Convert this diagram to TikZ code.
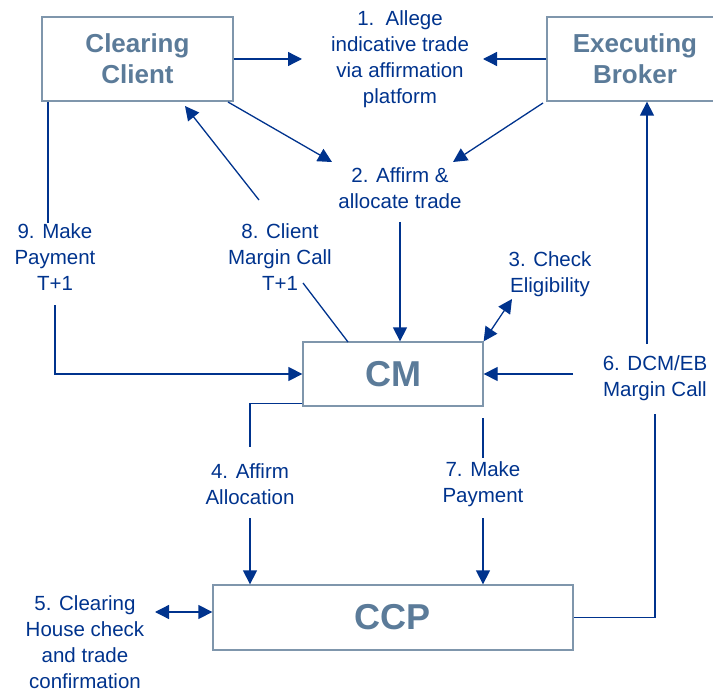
\documentclass[tikz,border=0pt]{standalone}
\usepackage{fontspec}
\setmainfont{Liberation Sans}
\usetikzlibrary{arrows.meta}
\definecolor{navyx}{HTML}{00338D}
\definecolor{slatex}{HTML}{5B7B99}
\definecolor{framex}{HTML}{7F96AC}
\tikzset{
  ar/.style={-{Triangle[length=14pt,width=14pt]},line width=1.3pt,navyx},
  dar/.style={{Triangle[length=14pt,width=14pt]}-{Triangle[length=14pt,width=14pt]},line width=1.3pt,navyx},
  ln/.style={line width=1.3pt,navyx},
  party/.style={draw=framex,line width=1.3pt,align=center,text=slatex,inner sep=0pt,font=\fontsize{26}{31}\selectfont\bfseries},
  hub/.style={party,font=\fontsize{36}{40}\selectfont\bfseries},
  lbl/.style={align=center,text=navyx,inner sep=0pt,font=\fontsize{20.5}{26}\selectfont}
}

\begin{document}
\begin{tikzpicture}[x=1pt,y=-1pt]
\useasboundingbox (0,0) rectangle (713,690);
% parties
\node[party,minimum width=191,minimum height=84] (cc) at (137.5,59) {Clearing\\Client};
\node[party,minimum width=176,minimum height=84] (eb) at (635,59) {Executing\\Broker};
\node[hub,minimum width=180,minimum height=64] (cm) at (393,374) {CM};
\node[hub,minimum width=360,minimum height=65] (ccp) at (393,617.5) {CCP};
% step labels
\node[lbl] (l1) at (400,59) {1.\ \ Allege\\indicative trade\\via affirmation\\platform};
\node[lbl] (l2) at (400,188) {2. Affirm \&\\allocate trade};
\node[lbl] (l3) at (550,274) {3. Check\\Eligibility};
\node[lbl] (l4) at (250,484) {4. Affirm\\Allocation};
\node[lbl] (l5) at (85,642) {5. Clearing\\House check\\and trade\\confirmation};
\node[lbl] (l6) at (655,378) {6. DCM/EB\\Margin Call};
\node[lbl] (l7) at (483,484) {7. Make\\Payment};
\node[lbl] (l8) at (280,257) {8. Client\\Margin Call\\T+1};
\node[lbl] (l9) at (55,257) {9. Make\\Payment\\T+1};
% free ends
\coordinate (a1l) at (302,59);
\coordinate (a1r) at (483,59);
\coordinate (a2s) at (228,102);
\coordinate (a2l) at (332,162);
\coordinate (a2e) at (543,103);
\coordinate (a2r) at (453,162);
\coordinate (a2d) at (400,222);
\coordinate (a3) at (512,299);
\coordinate (c4a) at (250,447);
\coordinate (c4b) at (250,518);
\coordinate (c5) at (155,612);
\coordinate (c6a) at (573,374);
\coordinate (c6b) at (647,344);
\coordinate (c6c) at (655,414);
\coordinate (c7a) at (483,418);
\coordinate (c7b) at (483,458);
\coordinate (c7c) at (483,518);
\coordinate (c8a) at (259,200);
\coordinate (c8b) at (185,106);
\coordinate (c8c) at (303,283);
\coordinate (c8d) at (348,342);
\coordinate (c9a) at (48,223);
\coordinate (c9b) at (55,305);
% connectors
\draw[ar] (cc.east) -- (a1l);
\draw[ar] (eb.west |- a1r) -- (a1r);
\draw[ar] (a2s) -- (a2l);
\draw[ar] (a2e) -- (a2r);
\draw[ar] (a2d) -- (a2d |- cm.north);
\draw[dar] (cm.north east) -- (a3);
\draw[ln] ([yshift=3pt]cm.south west) -| (c4a);
\draw[ar] (c4b) -- (c4b |- ccp.north);
\draw[dar] (c5) -- (c5 -| ccp.west);
\draw[ar] (c6a) -- (cm.east);
\draw[ar] (c6b) -- (c6b |- eb.south);
\draw[ln] (c6c) |- (ccp.east);
\draw[ln] (c7a) -- (c7b);
\draw[ar] (c7c) -- (c7c |- ccp.north);
\draw[ar] (c8a) -- (c8b);
\draw[ln] (c8c) -- (c8d);
\draw[ln] (c9a |- cc.south) -- (c9a);
\draw[ar] (c9b) |- (cm.west);
\end{tikzpicture}
\end{document}
